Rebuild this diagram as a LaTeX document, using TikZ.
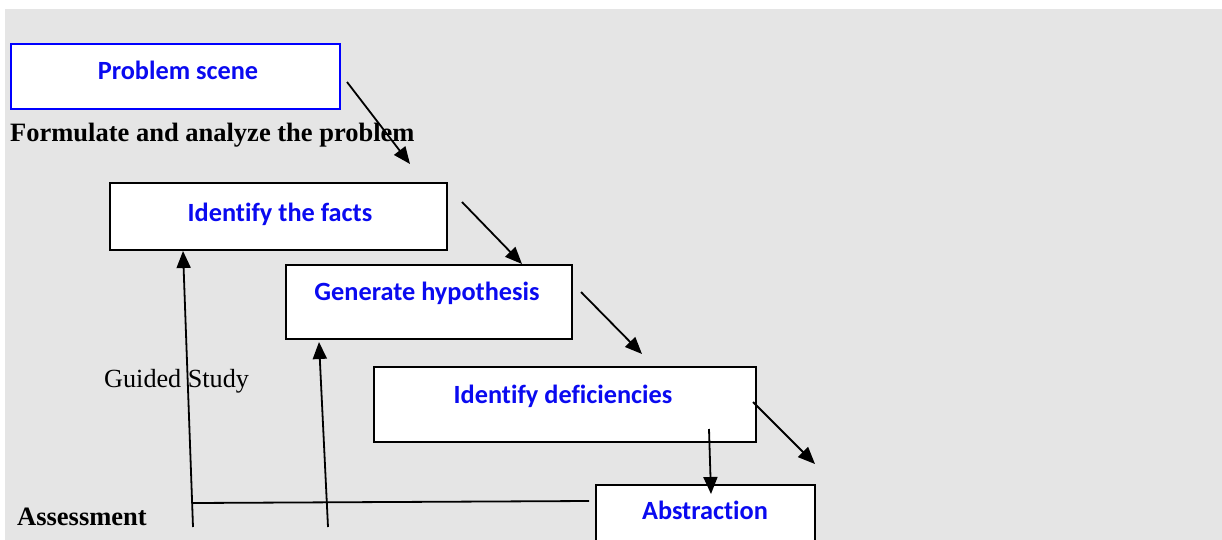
\documentclass[tikz,border=0pt]{standalone}
\usepackage{fontspec}
\setmainfont{Liberation Serif}
\newfontfamily\boxfont[Ligatures=NoCommon]{Carlito}
\usetikzlibrary{arrows.meta}
\definecolor{bg}{RGB}{229,229,229}
\definecolor{txtblue}{RGB}{10,10,240}
\tikzset{
  box/.style={draw=black, line width=1.6pt, fill=white, anchor=north west, inner sep=0pt},
  pbox/.style={box, draw=blue, line width=2pt},
  btext/.style={anchor=base, inner sep=0pt, text=txtblue, font=\boxfont\bfseries\fontsize{26.3}{31}\selectfont},
  stext/.style={anchor=base west, inner sep=0pt, font=\fontsize{26.2}{31}\selectfont},
  sbold/.style={stext, font=\bfseries\fontsize{26.5}{31}\selectfont},
  conn/.style={line width=1.8pt, -{Triangle[length=17pt,width=14pt]}},
  plain/.style={line width=1.8pt}
}
\begin{document}
\begin{tikzpicture}[x=1pt,y=-1pt]
\useasboundingbox (0,0) rectangle (1222,540);
\clip (0,0) rectangle (1222,540);
\fill[white] (0,0) rectangle (1222,540);
\fill[bg] (5,9) rectangle (1222,540);
% boxes
\node[pbox, minimum width=329pt, minimum height=65pt] (ps) at (10,43) {};
\node[box, minimum width=337pt, minimum height=67pt] (itf) at (109,182) {};
\node[box, minimum width=286pt, minimum height=74pt] (gh) at (285,264) {};
\node[box, minimum width=382pt, minimum height=75pt] (idf) at (373,366) {};
\node[box, minimum width=219pt, minimum height=80pt] (abs) at (595,484) {};
% box texts
\node[btext] (pst) at (178,80) {Problem scene};
\node[btext] (itft) at (280,221) {Identify the facts};
\node[btext] (ght) at (427,300) {Generate hypothesis};
\node[btext] (idft) at (563,403) {Identify deficiencies};
\node[btext] (abst) at (705,519) {Abstraction};
% free texts
\node[sbold] (form) at (10,142) {Formulate and analyze the problem};
\node[stext] (gs) at (104,387) {Guided Study};
\node[sbold] (ass) at (17,525) {Assessment};
% connector ends
\coordinate (a1s) at (347,82);  \coordinate (a1e) at (410,164);
\coordinate (a2s) at (462,202); \coordinate (a2e) at (522,264);
\coordinate (a3s) at (581,292); \coordinate (a3e) at (642,354);
\coordinate (a4s) at (753,402); \coordinate (a4e) at (815,464);
\coordinate (a5s) at (709,429); \coordinate (a5e) at (711,494);
\coordinate (a6s) at (193,527); \coordinate (a6e) at (183,251);
\coordinate (a7s) at (328,527); \coordinate (a7e) at (319,342);
\coordinate (hs) at (193,503);  \coordinate (he) at (589,501);
% connectors
\draw[conn] (a1s) -- (a1e);
\draw[conn] (a2s) -- (a2e);
\draw[conn] (a3s) -- (a3e);
\draw[conn] (a4s) -- (a4e);
\draw[conn] (a5s) -- (a5e);
\draw[conn] (a6s) -- (a6e);
\draw[conn] (a7s) -- (a7e);
\draw[plain] (hs) -- (he);
\end{tikzpicture}
\end{document}
